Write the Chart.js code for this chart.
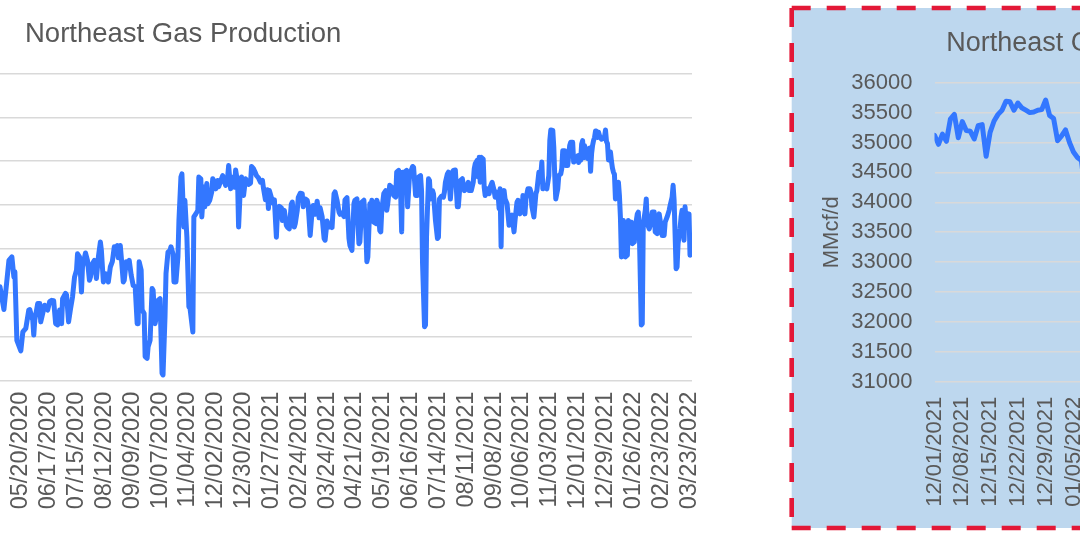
<!DOCTYPE html>
<html>
<head>
<meta charset="utf-8">
<script src="https://cdn.jsdelivr.net/npm/chart.js@4.4.1/dist/chart.umd.min.js"></script>
<style>
  html, body { margin: 0; padding: 0; background: #ffffff; overflow: hidden; width: 1080px; height: 535px; position: relative; }
  canvas { position: absolute; top: 0; }
  #leftChart { left: -67.1px; }
  #rightChart { left: 784px; }
</style>
</head>
<body>
<canvas id="leftChart" width="771" height="535"></canvas>
<canvas id="rightChart" width="651" height="535"></canvas>
<script>
// ---------------- data ----------------
const chartTitle = 'Northeast Gas Production';
const yAxisTitle = 'MMcf/d';
const baseDate = '04/22/2020';           // day 0 of dayOffset

// days since 04/22/2020
const dayOffset = [
  7, 11, 16, 19, 21, 22, 24, 28, 30, 33, 36, 37, 40, 41, 42, 45, 47, 48, 50, 52,
  55, 57, 59, 61, 63, 65, 67, 69, 70, 73, 74, 76, 78, 80, 82, 84, 85, 87, 89, 90,
  93, 95, 97, 98, 100, 102, 104, 106, 108, 109, 111, 113, 114, 116, 118, 120, 122, 123, 125, 126,
  128, 129, 131, 132, 134, 136, 137, 139, 141, 143, 145, 146, 147, 149, 150, 152, 153, 155, 156, 158,
  160, 161, 163, 165, 166, 168, 170, 171, 173, 174, 176, 178, 179, 181, 182, 184, 186, 187, 189, 190,
  192, 193, 195, 197, 198, 201, 202, 204, 206, 207, 209, 210, 212, 213, 215, 216, 218, 220, 221, 223,
  224, 226, 227, 229, 231, 232, 234, 236, 237, 239, 240, 243, 244, 246, 247, 249, 250, 252, 254, 255,
  257, 259, 260, 262, 264, 265, 267, 269, 271, 272, 274, 276, 277, 278, 280, 281, 283, 285, 286, 288,
  290, 291, 293, 295, 296, 298, 300, 301, 303, 304, 306, 307, 309, 311, 312, 314, 316, 317, 319, 321,
  322, 324, 326, 328, 329, 331, 333, 334, 336, 338, 339, 341, 343, 344, 346, 348, 349, 351, 353, 354,
  356, 358, 359, 361, 363, 364, 366, 368, 369, 371, 373, 375, 376, 377, 379, 380, 381, 383, 385, 386,
  387, 389, 390, 391, 393, 395, 396, 397, 399, 401, 403, 405, 406, 408, 410, 411, 412, 414, 416, 417,
  419, 420, 422, 423, 425, 427, 428, 430, 431, 432, 434, 435, 436, 438, 439, 440, 442, 443, 445, 447,
  448, 449, 451, 453, 454, 455, 457, 458, 460, 462, 463, 465, 467, 468, 470, 472, 474, 476, 478, 479,
  481, 483, 484, 485, 487, 488, 489, 490, 491, 493, 494, 495, 497, 499, 500, 502, 504, 505, 506, 508,
  509, 510, 511, 512, 514, 515, 517, 519, 520, 522, 524, 525, 527, 528, 530, 532, 533, 535, 536, 538,
  540, 541, 542, 544, 546, 547, 549, 551, 552, 553, 555, 557, 558, 559, 560, 561, 563, 564, 565, 566,
  568, 569, 571, 572, 573, 575, 576, 578, 580, 581, 583, 584, 586, 588, 589, 590, 591, 592, 593, 594,
  595, 596, 597, 598, 599, 600, 601, 602, 603, 604, 605, 606, 607, 608, 609, 610, 611, 612, 613, 614,
  615, 616, 617, 618, 619, 620, 621, 622, 623, 624, 625, 626, 628, 629, 630, 631, 632, 634, 635, 636,
  638, 639, 641, 642, 643, 645, 646, 648, 649, 650, 652, 653, 654, 656, 657, 658, 660, 661, 663, 665,
  666, 668, 670, 671, 673, 675, 676, 678, 680, 681, 683, 684, 685, 687, 688, 689, 691, 692, 693, 695,
  696, 697, 699, 700, 701, 703
];

// MMcf/d
const production = [
  32140, 31620, 32740, 32820, 32360, 32480, 30920, 30680, 31110, 31190, 31610, 31620, 31380, 31040, 31380, 31760, 31760, 31340, 31530, 31720,
  31610, 31800, 31830, 31820, 31300, 31270, 31610, 31300, 31870, 31990, 31950, 31340, 31640, 31910, 32360, 32520, 32890, 32820, 32020, 32590,
  32910, 32740, 32290, 32360, 32670, 32740, 32330, 32820, 33160, 32970, 32250, 32440, 32360, 32250, 32590, 32710, 33050, 32970, 33080, 32800,
  33080, 32820, 32250, 32290, 32710, 32670, 32740, 32400, 32170, 32140, 31300, 31300, 32710, 32520, 31610, 31530, 30550, 30510, 30770, 30920,
  32100, 32060, 31300, 31530, 31830, 31870, 30170, 30130, 31460, 32440, 32930, 32970, 33050, 32890, 32250, 32250, 32820, 33650, 34640, 34710,
  33500, 34110, 33270, 31680, 31680, 31110, 33730, 33800, 33880, 34640, 34600, 33730, 34410, 33960, 34490, 34030, 34110, 34300, 34600, 34520,
  34370, 34560, 34420, 34550, 34670, 34580, 34450, 34640, 34900, 34370, 34640, 34410, 34800, 34520, 33500, 34520, 34640, 34220, 34600, 34560,
  34470, 34500, 34880, 34830, 34730, 34670, 34620, 34520, 34560, 34390, 34120, 34350, 33920, 34330, 34170, 34050, 34120, 33270, 33790, 33970,
  33940, 33650, 33880, 33540, 33500, 33460, 34020, 34070, 33500, 33580, 33880, 34170, 34270, 34260, 33960, 34140, 34110, 33990, 33310, 33880,
  33990, 33790, 34090, 33710, 33940, 33740, 33240, 33200, 33640, 33500, 33540, 33490, 34260, 34300, 34110, 33840, 33790, 33820, 33740, 34120,
  34170, 33240, 33080, 32970, 34030, 34110, 34140, 33120, 33160, 34070, 34110, 33420, 32710, 32820, 34030, 33960, 34110, 33610, 33580, 34110,
  34030, 33420, 33390, 33880, 34260, 34330, 33880, 34030, 34450, 34410, 34220, 34180, 34750, 34790, 34260, 33390, 34750, 34750, 34790, 33960,
  34710, 34750, 34880, 34860, 34220, 34220, 34640, 34670, 34330, 32670, 31230, 31270, 33270, 34600, 34560, 34140, 34330, 34260, 33650, 33240,
  33270, 34140, 34200, 34180, 34300, 34520, 34710, 34750, 34140, 34750, 34790, 34800, 33960, 33960, 34560, 34600, 34330, 34370, 34520, 34330,
  34330, 34520, 34830, 34940, 35020, 34640, 35090, 34520, 35090, 35050, 34410, 34220, 34370, 34260, 34410, 34520, 34330, 34180, 34300, 34240,
  33920, 34370, 33050, 34260, 34330, 34140, 34030, 33540, 33650, 33770, 33390, 33650, 34070, 34110, 33800, 33880, 34220, 33800, 34140, 34370,
  34370, 34300, 33960, 33730, 34260, 34330, 34750, 34710, 34980, 34370, 34410, 34370, 34520, 34670, 35470, 35710, 35700, 35320, 34640, 34140,
  34370, 34670, 34710, 34830, 35240, 35240, 34900, 34900, 35360, 35430, 35430, 34980, 35020, 35120, 34970, 35140, 35020, 35390, 35470, 35080,
  35350, 35200, 35190, 35060, 35280, 35300, 34770, 35170, 35360, 35470, 35540, 35690, 35680, 35540, 35660, 35580, 35540, 35500, 35510, 35540,
  35550, 35710, 35450, 35400, 35030, 35110, 35210, 35000, 34840, 34750, 34700, 34140, 34260, 34520, 34220, 33730, 32820, 33650, 33540, 32820,
  32860, 33650, 33540, 33610, 33120, 33160, 33500, 33800, 33840, 33420, 31270, 31300, 33580, 33880, 34140, 33580, 33460, 33540, 33840, 33840,
  33390, 33350, 33800, 33650, 33310, 33310, 33610, 33730, 33880, 33990, 34180, 34450, 34110, 32550, 32590, 33120, 33460, 33730, 33880, 33200,
  33960, 33650, 33500, 33800, 32860, 33160
];

// tick labels
const leftTickLabels = [
  '04/22/2020', '05/20/2020', '06/17/2020', '07/15/2020', '08/12/2020', '09/09/2020', '10/07/2020',
  '11/04/2020', '12/02/2020', '12/30/2020', '01/27/2021', '02/24/2021', '03/24/2021', '04/21/2021',
  '05/19/2021', '06/16/2021', '07/14/2021', '08/11/2021', '09/08/2021', '10/06/2021', '11/03/2021',
  '12/01/2021', '12/29/2021', '01/26/2022', '02/23/2022', '03/23/2022'
];
const rightTickLabels = [
  '12/01/2021', '12/08/2021', '12/15/2021', '12/22/2021', '12/29/2021', '01/05/2022', '01/12/2022',
  '01/19/2022', '01/26/2022', '02/02/2022', '02/09/2022', '02/16/2022', '02/23/2022', '03/02/2022',
  '03/09/2022', '03/16/2022', '03/23/2022'
];

// ---------------- helpers ----------------
function dayOf(label) {
  const [m, d, y] = label.split('/').map(Number);
  const [bm, bd, by] = baseDate.split('/').map(Number);
  return Math.round((Date.UTC(y, m - 1, d) - Date.UTC(by, bm - 1, bd)) / 864e5);
}
const seriesPoints = dayOffset.map((x, i) => ({ x: x, y: production[i] }));
const leftTickDays = leftTickLabels.map(dayOf);
const rightTickDays = rightTickLabels.map(dayOf);
const rightStart = rightTickDays[0];
const rightPoints = seriesPoints.filter(p => p.x >= rightStart);

Chart.defaults.font.family = "'Liberation Sans', Arial, Helvetica, sans-serif";
Chart.defaults.color = '#595959';
Chart.defaults.animation = false;

const LINE = '#3377ff';
const GRID = '#d9d9d9';
const TEXT = '#595959';

const titleInset = {
  id: 'titleInset',
  afterLayout(chart, args, opts) {
    if (typeof opts.left === 'number') chart.titleBlock.left = opts.left;
  }
};

const panelFrame = {
  id: 'panelFrame',
  beforeDraw(chart, args, o) {
    const c = chart.ctx;
    c.save();
    c.fillStyle = o.fill;
    c.fillRect(o.x0, o.y0, o.x1 - o.x0, o.y1 - o.y0);
    c.strokeStyle = o.stroke;
    c.lineWidth = o.width;
    c.setLineDash(o.dash);
    c.beginPath();
    c.moveTo(o.x0, o.y0); c.lineTo(o.x1, o.y0);
    c.moveTo(o.x0, o.y0); c.lineTo(o.x0, o.y1);
    c.moveTo(o.x0, o.y1); c.lineTo(o.x1, o.y1);
    c.moveTo(o.x1, o.y0); c.lineTo(o.x1, o.y1);
    c.stroke();
    c.restore();
  }
};

function fixedX(height) {
  return function (scale) {
    scale.height = height;
    scale.paddingLeft = 0; scale.paddingRight = 0;
  };
}
function fixedY(width) {
  return function (scale) {
    scale.width = width;
    scale.paddingTop = 0; scale.paddingBottom = 0;
  };
}

const lineDataset = (pts) => ({
  data: pts,
  borderColor: LINE,
  backgroundColor: LINE,
  borderWidth: 5,
  pointRadius: 0,
  pointHoverRadius: 0,
  tension: 0,
  borderJoinStyle: 'round',
  borderCapStyle: 'round',
  fill: false
});

// ---------------- left chart ----------------
new Chart(document.getElementById('leftChart'), {
  type: 'line',
  data: { datasets: [lineDataset(seriesPoints)] },
  plugins: [titleInset],
  options: {
    responsive: false,
    devicePixelRatio: 1,
    parsing: false,
    normalized: true,
    layout: { padding: { left: 0, right: 12, top: 0, bottom: 0 } },
    plugins: {
      legend: { display: false },
      tooltip: { enabled: false },
      title: {
        display: true, text: chartTitle, align: 'start', color: TEXT,
        font: { size: 27.5, weight: 'normal' },
        padding: { top: 17.5, bottom: 22.9 }
      },
      titleInset: { left: 92 }
    },
    scales: {
      x: {
        type: 'linear',
        min: leftTickDays[0],
        max: dayOffset[dayOffset.length - 1],
        grid: { display: false },
        border: { display: false },
        ticks: {
          autoSkip: false, maxRotation: 90, minRotation: 90, padding: 3,
          color: TEXT, font: { size: 23.5 },
          callback: (v, i) => leftTickLabels[i]
        },
        afterBuildTicks: (s) => { s.ticks = leftTickDays.map(v => ({ value: v })); },
        afterFit: fixedX(154.3)
      },
      y: {
        min: 30000, max: 37000,
        grid: { color: GRID, lineWidth: 1.6, drawTicks: false },
        border: { display: false },
        ticks: { stepSize: 1000, color: TEXT, font: { size: 22 }, callback: (v) => String(v) },
        afterFit: fixedY(60)
      }
    }
  }
});

// ---------------- right chart ----------------
new Chart(document.getElementById('rightChart'), {
  type: 'line',
  data: { datasets: [lineDataset(rightPoints)] },
  plugins: [panelFrame],
  options: {
    responsive: false,
    devicePixelRatio: 1,
    parsing: false,
    normalized: true,
    layout: { padding: { left: 8, right: 24, top: 10, bottom: 0 } },
    plugins: {
      legend: { display: false },
      tooltip: { enabled: false },
      title: {
        display: true, text: chartTitle, align: 'center', color: TEXT,
        font: { size: 27, weight: 'normal' },
        padding: { top: 17.8, bottom: 22.5 }
      },
      panelFrame: {
        x0: 7.7, y0: 8, x1: 643, y1: 528,
        fill: '#bdd7ee', stroke: '#e31837', width: 4.6, dash: [19, 16]
      }
    },
    scales: {
      x: {
        type: 'linear',
        min: rightStart,
        max: 708,
        grid: { display: false },
        border: { display: false },
        ticks: {
          autoSkip: false, maxRotation: 90, minRotation: 90, padding: 7,
          color: TEXT, font: { size: 22 },
          callback: (v, i) => rightTickLabels[i]
        },
        afterBuildTicks: (s) => { s.ticks = rightTickDays.map(v => ({ value: v })); },
        afterFit: fixedX(153.3)
      },
      y: {
        min: 31000, max: 36000,
        grid: { color: GRID, lineWidth: 1.6, drawTicks: false },
        border: { display: false },
        ticks: { stepSize: 500, padding: 22, color: TEXT, font: { size: 22 }, callback: (v) => String(v) },
        title: {
          display: true, text: yAxisTitle, color: TEXT,
          font: { size: 22, weight: 'normal' },
          padding: { top: 26.5, bottom: 0 }
        },
        afterFit: fixedY(142.5)
      }
    }
  }
});
</script>
</body>
</html>
